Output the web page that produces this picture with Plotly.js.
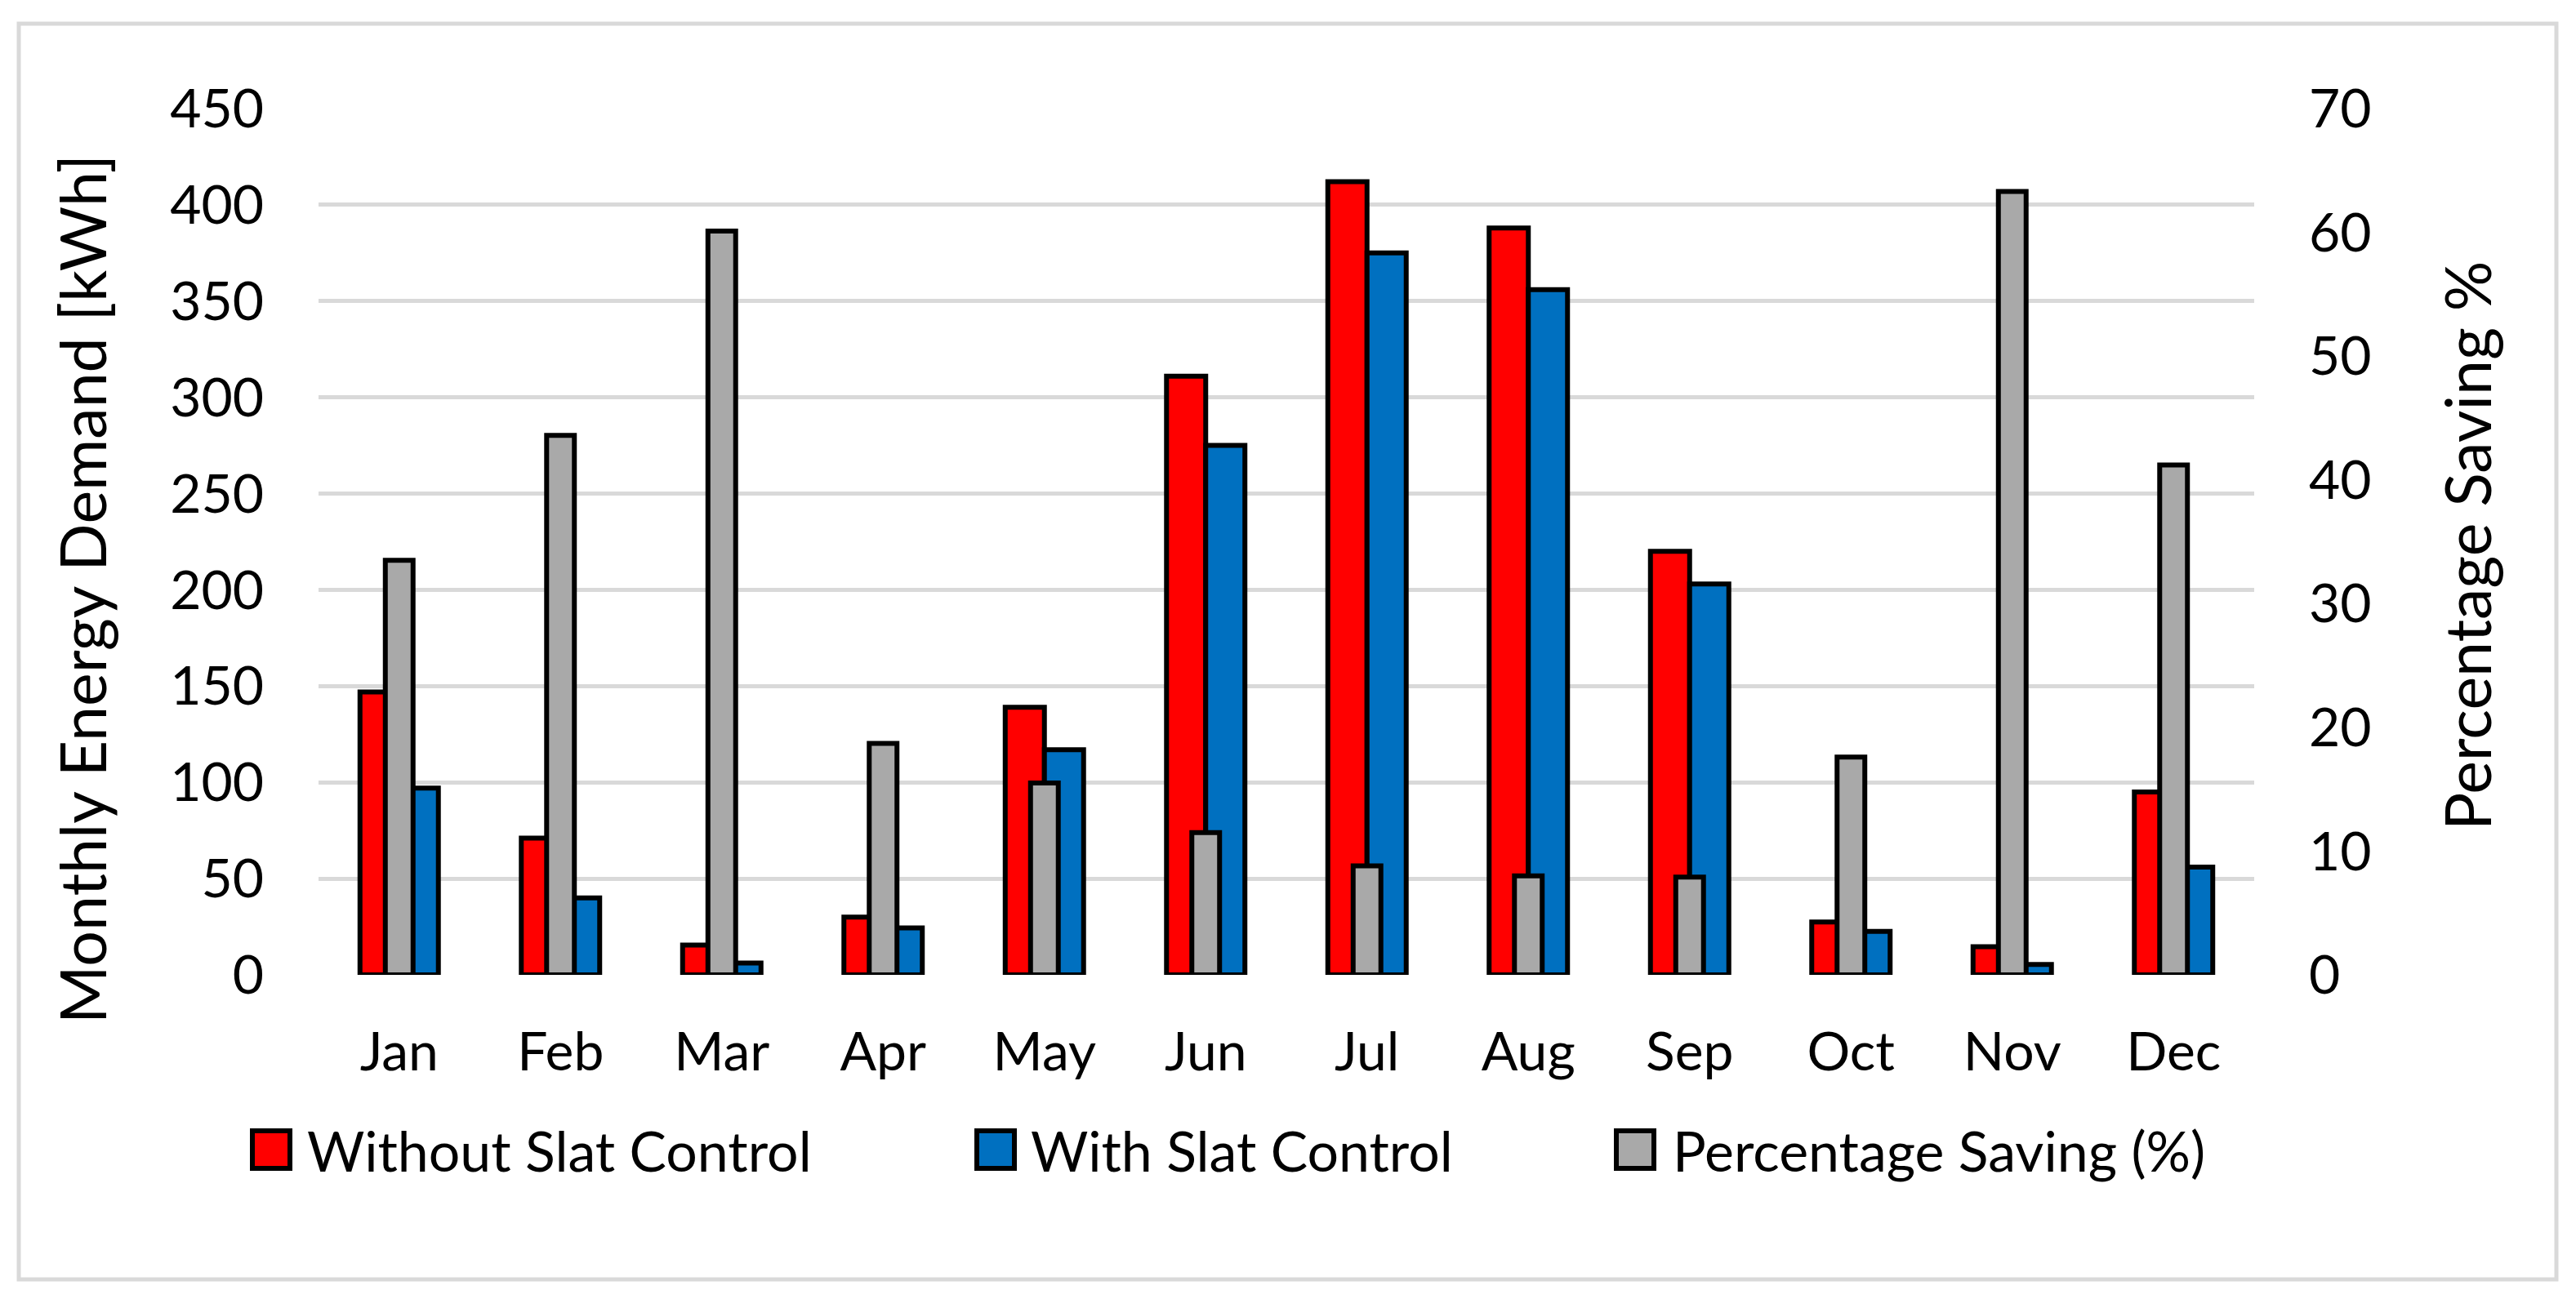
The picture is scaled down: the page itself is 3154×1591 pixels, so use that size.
<!DOCTYPE html>
<html>
<head>
<meta charset="utf-8">
<script src="https://cdn.plot.ly/plotly-3.0.1.min.js"></script>
<style>html,body{margin:0;padding:0;background:#fff;}#chart{width:3154px;height:1591px;}</style>
</head>
<body>
<div id="chart"></div>
<script>
const months = ["Jan","Feb","Mar","Apr","May","Jun","Jul","Aug","Sep","Oct","Nov","Dec"];
const withoutSlat = [147, 71, 15.5, 30, 139, 311, 412, 388, 220, 27.5, 14.6, 95];
const withSlat = [97, 40, 6.2, 24.4, 117, 275, 375, 356, 203, 22.6, 5.4, 56];
const saving = [33.5, 43.6, 60.1, 18.7, 15.5, 11.5, 8.8, 8.0, 7.9, 17.6, 63.3, 41.2];
const seriesNames = ["Without Slat Control", "With Slat Control", "Percentage Saving (%)"];
const seriesColors = ["#FF0000", "#0070C0", "#A9A9A9"];
const leftTicks = [0,50,100,150,200,250,300,350,400,450];
const rightTicks = [0,10,20,30,40,50,60,70];

const FONT = "Lato, 'Open Sans', sans-serif";
const W = 3154, H = 1591;
const L = 390, R = 394, T = 133, B = 397;
const PW = W - L - R, PH = H - T - B;
const px = x => (x - L) / PW;
const py = y => (H - B - y) / PH;

const outline = {color: "#000", width: 6};
const traces = [
  {type: "bar", x: months, y: withoutSlat, name: seriesNames[0], yaxis: "y",
   marker: {color: seriesColors[0], line: outline}, offset: -0.243, width: 0.243},
  {type: "bar", x: months, y: withSlat, name: seriesNames[1], yaxis: "y",
   marker: {color: seriesColors[1], line: outline}, offset: 0, width: 0.243},
  {type: "bar", x: months, y: saving, name: seriesNames[2], yaxis: "y2",
   marker: {color: seriesColors[2], line: outline}, offset: -0.086, width: 0.172}
];

const legendBoxes = [309, 1196, 1979];
const legendTexts = [374, 1260, 2046];
const shapes = [
  {type: "rect", xref: "paper", yref: "paper", x0: px(23), x1: px(3130), y0: py(1567), y1: py(29),
   line: {color: "#D9D9D9", width: 5}, fillcolor: "rgba(0,0,0,0)", layer: "below"}
];
const annotations = [
  {text: "Monthly Energy Demand [kWh]", xref: "paper", yref: "paper", x: px(100), y: py(722),
   textangle: -90, showarrow: false, xanchor: "center", yanchor: "middle",
   font: {family: FONT, size: 77, color: "#000"}},
  {text: "Percentage Saving %", xref: "paper", yref: "paper", x: px(3020), y: py(669),
   textangle: -90, showarrow: false, xanchor: "center", yanchor: "middle",
   font: {family: FONT, size: 77, color: "#000"}}
];
seriesNames.forEach((n, i) => {
  shapes.push({type: "rect", xref: "paper", yref: "paper",
    x0: px(legendBoxes[i]), x1: px(legendBoxes[i] + 46), y0: py(1431), y1: py(1385),
    line: {color: "#000", width: 6}, fillcolor: seriesColors[i]});
  annotations.push({text: n, xref: "paper", yref: "paper", x: px(legendTexts[i]), y: py(1408),
    showarrow: false, xanchor: "left", yanchor: "middle",
    font: {family: FONT, size: 68, color: "#000"}});
});

const layout = {
  width: W, height: H,
  margin: {l: L, r: R, t: T, b: B, autoexpand: false},
  paper_bgcolor: "#fff", plot_bgcolor: "#fff",
  showlegend: false,
  barmode: "overlay",
  font: {family: FONT, size: 66, color: "#000"},
  xaxis: {type: "category", categoryarray: months, showgrid: false, zeroline: false,
          showline: false, ticks: "", ticklabelstandoff: 50,
          tickfont: {family: FONT, size: 66, color: "#000"}},
  yaxis: {range: [0, 450], tickvals: leftTicks, showgrid: true, gridcolor: "#D9D9D9", gridwidth: 5,
          zeroline: false, showline: false, ticks: "", ticklabelstandoff: 66,
          tickfont: {family: FONT, size: 66, color: "#000"}},
  yaxis2: {range: [0, 70], tickvals: rightTicks, overlaying: "y", side: "right", showgrid: false,
           zeroline: false, showline: false, ticks: "", ticklabelstandoff: 66,
           tickfont: {family: FONT, size: 66, color: "#000"}},
  shapes: shapes,
  annotations: annotations
};

Plotly.newPlot("chart", traces, layout, {staticPlot: true, displayModeBar: false});
</script>
</body>
</html>
